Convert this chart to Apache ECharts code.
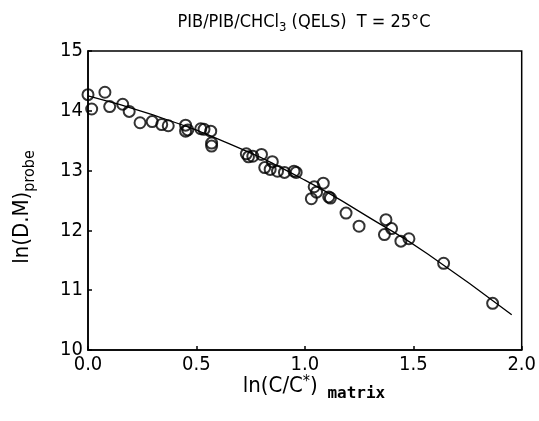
<!DOCTYPE html>
<html>
<head>
<meta charset="utf-8">
<script src="https://cdn.jsdelivr.net/npm/echarts@6/dist/echarts.min.js"></script>
<style>html,body{margin:0;padding:0;background:#fff}#c{width:539px;height:421px}</style>
</head>
<body>
<div id="c"></div>
<script>
// measured points: ln(C/C*)matrix vs ln(D.M)probe
const xData = [0.00,0.017,0.078,0.10,0.16,0.19,0.24,0.296,0.34,0.37,0.45,0.45,0.46,0.52,0.535,0.566,0.57,0.57,
  0.73,0.74,0.76,0.80,0.815,0.85,0.84,0.874,0.906,0.95,0.96,
  1.043,1.085,1.054,1.03,1.11,1.118,1.19,1.25,1.374,1.40,1.367,1.443,1.48,1.64,1.866];
const yData = [14.27,14.03,14.31,14.07,14.11,13.99,13.80,13.82,13.77,13.75,13.76,13.66,13.68,13.70,13.69,13.66,13.46,13.41,
  13.28,13.23,13.24,13.27,13.05,13.15,13.02,12.99,12.97,12.99,12.97,
  12.73,12.79,12.64,12.53,12.56,12.54,12.29,12.07,12.18,12.03,11.93,11.82,11.86,11.45,10.78];
// fitted curve
const fitX = [0.0,0.3,0.65,1.0,1.336,1.565,1.954];
const fitY = [14.25,13.93,13.45,12.84,12.13,11.61,10.59];
const xTicks = [0.0,0.5,1.0,1.5,2.0];
const yTicks = [10,11,12,13,14,15];

const FONT = "'DejaVu Sans Condensed','Liberation Sans Narrow','DejaVu Sans',sans-serif";
const MONO = "'DejaVu Sans Mono','Liberation Mono',monospace";
const chart = echarts.init(document.getElementById('c'), null, {renderer:'canvas'});
chart.setOption({
  animation:false,
  backgroundColor:'#fff',
  grid:{left:88,right:14,top:51,bottom:71,show:true,borderColor:'#000',borderWidth:1.5,backgroundColor:'transparent'},
  xAxis:{type:'value',min:xTicks[0],max:xTicks[xTicks.length-1],interval:0.5,
    axisLine:{show:true,lineStyle:{color:'#000',width:1.5}},
    axisTick:{show:true,inside:true,length:4,lineStyle:{color:'#000',width:1.5}},
    splitLine:{show:false},
    axisLabel:{color:'#000',fontSize:20,fontFamily:FONT,margin:5,formatter:v=>v.toFixed(1)}},
  yAxis:{type:'value',min:yTicks[0],max:yTicks[yTicks.length-1],interval:1,
    axisLine:{show:true,lineStyle:{color:'#000',width:1.5}},
    axisTick:{show:true,inside:true,length:4,lineStyle:{color:'#000',width:1.5}},
    splitLine:{show:false},
    axisLabel:{color:'#000',fontSize:20,fontFamily:FONT,margin:5}},
  graphic:[
    {type:'text',x:304,y:22,style:{
      text:'{a|PIB/PIB/CHCl}{s|3}{a| (QELS)  T = 25°C}',align:'center',verticalAlign:'middle',
      rich:{a:{fontSize:18,fontFamily:FONT,fill:'#000'},s:{fontSize:13,fontFamily:FONT,fill:'#000',padding:[11,0,0,0]}}}},
    {type:'text',x:314,y:386,style:{
      text:'{a|ln(C/C}{u|*}{a|)}{s| matrix}',align:'center',verticalAlign:'middle',
      rich:{a:{fontSize:22,fontFamily:FONT,fill:'#000'},u:{fontSize:16,fontFamily:FONT,fill:'#000',padding:[0,0,9,0]},s:{fontSize:16,fontWeight:'bold',fontFamily:MONO,fill:'#000',padding:[15,0,0,0]}}}},
    {type:'text',x:22,y:207,rotation:Math.PI/2,style:{
      text:'{a|ln(D.M)}{s|probe}',align:'center',verticalAlign:'middle',
      rich:{a:{fontSize:22,fontFamily:FONT,fill:'#000'},s:{fontSize:16,fontFamily:FONT,fill:'#000',padding:[15,0,0,0]}}}}
  ],
  series:[
    {type:'line',data:fitX.map((x,i)=>[x,fitY[i]]),smooth:true,showSymbol:false,symbol:'none',
      lineStyle:{color:'#000',width:1.3},z:2},
    {type:'scatter',data:xData.map((x,i)=>[x,yData[i]]),symbol:'circle',symbolSize:11,
      itemStyle:{color:'rgba(255,255,255,0)',borderColor:'#000',borderWidth:2},z:3}
  ]
});
</script>
</body>
</html>
